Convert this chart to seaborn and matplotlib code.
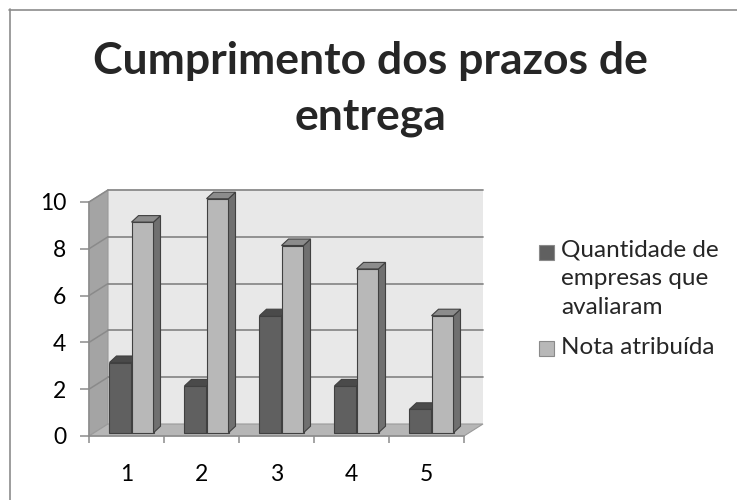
import matplotlib
matplotlib.use("Agg")
import matplotlib.pyplot as plt
import matplotlib.transforms as mtransforms
from matplotlib.patches import Polygon, Rectangle
from matplotlib.lines import Line2D
import numpy as np
import pandas as pd
import seaborn as sns

# ---- data ----
categories = ["1", "2", "3", "4", "5"]
quantidade = [3, 2, 5, 2, 1]
nota = [9, 10, 8, 7, 5]
series_names = ["Quantidade de\nempresas que\navaliaram", "Nota atribuída"]
y_ticks = [0, 2, 4, 6, 8, 10]
title = "Cumprimento dos prazos de\nentrega"

# ---- style ----
sns.set_style("white")
plt.rcParams["font.family"] = ["Lato", "DejaVu Sans"]

DARK = "#606060"
LIGHT = "#b8b8b8"
DARK_TOP = "#4a4a4a"
LIGHT_SIDE = "#707070"
LIGHT_TOP = "#8c8c8c"
EDGE = "#404040"
GRID = "#8a8a8a"
AXIS = "#8c8c8c"

W, H = 737, 500
fig = plt.figure(figsize=(W / 100, H / 100), dpi=100)
fig.patch.set_facecolor("white")

# axes: front floor edge from x=89 to 464 px, value 0 at y=436 px, 23.4 px per unit
ymax = 11.0
ax = fig.add_axes([89 / W, (H - 436) / H, 375 / W, 23.4 * ymax / H])
ax.set_xlim(-0.5, 4.5)
ax.set_ylim(0, ymax)

df = pd.DataFrame({
    "categoria": categories * 2,
    "valor": quantidade + nota,
    "serie": [series_names[0]] * len(categories) + [series_names[1]] * len(categories),
})

sns.barplot(data=df, x="categoria", y="valor", hue="serie", order=categories,
            hue_order=series_names, palette=[DARK, LIGHT], width=0.587,
            saturation=1, edgecolor=EDGE, linewidth=0.8, legend=False, ax=ax)
ax.set_xlim(-0.5, 4.5)
ax.set_ylim(0, ymax)
ax.set_xlabel("")
ax.set_ylabel("")

# depth of the walls (19 px right, 12 px up) in data units
DX, DY = 19 / 75, 12 / 23.4
x0, x1 = -0.5, 4.5

left_wall = Polygon([(x0, 0), (x0, 10), (x0 + DX, 10 + DY), (x0 + DX, DY)],
                    closed=True, facecolor="#a4a4a4", edgecolor="#9a9a9a", lw=0.8,
                    zorder=0.5, clip_on=False)
back_wall = Polygon([(x0 + DX, DY), (x1 + DX, DY), (x1 + DX, 10 + DY), (x0 + DX, 10 + DY)],
                    closed=True, facecolor="#e8e8e8", edgecolor="none",
                    zorder=0.4, clip_on=False)
floor = Polygon([(x0, 0), (x1, 0), (x1 + DX, DY), (x0 + DX, DY)],
                closed=True, facecolor="#b6b6b6", edgecolor="#9a9a9a", lw=0.8,
                zorder=0.6, clip_on=False)
for p in (back_wall, left_wall, floor):
    ax.add_patch(p)

# gridlines on the back and side walls
for v in y_ticks[1:]:
    ax.add_line(Line2D([x0 + DX, x1 + DX], [v + DY, v + DY], color=GRID, lw=1.3,
                       zorder=0.7, clip_on=False))
    ax.add_line(Line2D([x0, x0 + DX], [v, v + DY], color=GRID, lw=1.1,
                       zorder=0.7, clip_on=False))

# bars sit a little inside the floor depth
bar_tr = mtransforms.offset_copy(ax.transData, fig=fig, x=5, y=3.3, units="dots")
bdx, bdy = 7 / 75, 6.5 / 23.4
bars = list(ax.patches)
bars = [b for b in bars if b not in (back_wall, left_wall, floor)]
n = len(categories)
for i, bar in enumerate(bars):
    is_light = i >= n
    z = 4 if is_light else 3
    bar.set_transform(bar_tr)
    bar.set_zorder(z)
    bx, bw, bh = bar.get_x(), bar.get_width(), bar.get_height()
    side = Polygon([(bx + bw, 0), (bx + bw + bdx, bdy), (bx + bw + bdx, bh + bdy), (bx + bw, bh)],
                   closed=True, facecolor=LIGHT_SIDE if is_light else "#505050",
                   edgecolor=EDGE, lw=0.8, zorder=z, transform=bar_tr, clip_on=False)
    top = Polygon([(bx, bh), (bx + bw, bh), (bx + bw + bdx, bh + bdy), (bx + bdx, bh + bdy)],
                  closed=True, facecolor=LIGHT_TOP if is_light else DARK_TOP,
                  edgecolor=EDGE, lw=0.8, zorder=z, transform=bar_tr, clip_on=False)
    ax.add_patch(side)
    ax.add_patch(top)

# axes decoration
for s in ("top", "right"):
    ax.spines[s].set_visible(False)
ax.spines["left"].set_bounds(0, 10)
ax.spines["left"].set_color(AXIS)
ax.spines["bottom"].set_color(AXIS)
ax.spines["left"].set_linewidth(1.1)
ax.spines["bottom"].set_linewidth(1.1)
ax.spines["left"].set_zorder(0.8)
ax.spines["bottom"].set_zorder(0.8)

ax.set_yticks(y_ticks)
ax.set_yticklabels([str(v) for v in y_ticks])
ax.set_xticks(range(n))
ax.set_xticklabels(categories)
ax.set_xticks(np.arange(-0.5, n, 1.0), minor=True)
ax.tick_params(axis="y", length=6.5, width=1.1, color=AXIS, pad=10, labelsize=16.5,
               labelcolor="black", left=True)
ax.tick_params(axis="x", which="major", length=0, pad=20, labelsize=16.5, labelcolor="black")
ax.tick_params(axis="x", which="minor", length=5, width=1.1, color=AXIS, bottom=True)
ax.grid(False)
ax.set_facecolor("none")

# title
fig.text(370 / W, 1 - 89 / H, title, ha="center", va="center", fontsize=32,
         fontweight="bold", linespacing=1.48)

# legend
legend_items = [(series_names[0], DARK, 252, 278.5), (series_names[1], LIGHT, 348, 348)]
for label, color, sq_y, txt_y in legend_items:
    fig.add_artist(Rectangle((539 / W, 1 - (sq_y + 7.5) / H), 15 / W, 15 / H,
                             transform=fig.transFigure, facecolor=color,
                             edgecolor="#8a8a8a", lw=0.8))
    fig.text(561 / W, 1 - txt_y / H, label, ha="left", va="center", fontsize=17.5,
             linespacing=1.47)

# chart border
fig.add_artist(Line2D([9.5 / W, 9.5 / W], [1 - 9 / H, 0], transform=fig.transFigure,
                      color=AXIS, lw=1.2))
fig.add_artist(Line2D([9 / W, 1], [1 - 9.5 / H, 1 - 9.5 / H], transform=fig.transFigure,
                      color=AXIS, lw=1.2))

fig.savefig("out.png", dpi=100)
